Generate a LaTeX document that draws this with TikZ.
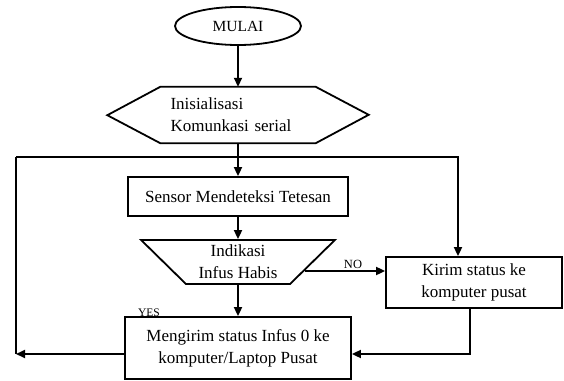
\documentclass[tikz,border=0pt]{standalone}
\usepackage{fontspec}
\setmainfont{Liberation Serif}
\usetikzlibrary{arrows.meta,calc,shapes.geometric}
\tikzset{
  flowtxt/.style={font=\fontsize{17}{22}\selectfont, align=center},
  prosesbox/.style={draw, rectangle, line width=1.8pt, inner sep=0pt, flowtxt},
  labelkecil/.style={font=\fontsize{12.5}{14}\selectfont, inner sep=0pt},
  garis/.style={line width=1.8pt},
  panah/.style={line width=1.8pt, -{Triangle[length=9pt,width=8pt]}},
}

\begin{document}
\begin{tikzpicture}[x=1pt,y=-1pt]
			%%%%% START %%%%%
			\useasboundingbox (0,0) rectangle (564,380);
			
			\node[draw, ellipse, line width=1.8pt, minimum width=126pt, minimum height=38pt, inner sep=0pt, font=\fontsize{15.5}{18}\selectfont] (mulai) at (238,26) {MULAI};
			
			\node[flowtxt, align=left, text width=135pt, inner xsep=10pt, inner ysep=0pt, minimum height=56pt] (init) at (238,115) {Inisialisasi\\Komunkasi serial};
			\draw[garis] (init.north west) -- (init.north east) -- ++(53,28) -- (init.south east) -- (init.south west) -- ++(-53,-28) -- cycle;
			
			\node[prosesbox, minimum width=220pt, minimum height=39pt] (sensor) at (238,196.5) {Sensor Mendeteksi Tetesan};
			
			\node[draw, trapezium, shape border rotate=180, trapezium left angle=45, trapezium right angle=45, trapezium stretches=true, minimum width=194pt, minimum height=44pt, line width=1.8pt, inner sep=0pt, flowtxt] (cek) at (238,262) {Indikasi\\Infus Habis};
			
			\node[prosesbox, minimum width=176pt, minimum height=51pt] (kirim) at (474,282.5) {Kirim status ke\\komputer pusat};
			\node[prosesbox, minimum width=226pt, minimum height=62pt] (kirimpusat) at (238,348) {Mengirim status Infus 0 ke\\komputer/Laptop Pusat};
			
			\node[labelkecil] (no) at (353,264) {NO};
			\node[labelkecil, font=\fontsize{11.5}{13}\selectfont] (yes) at (149,313) {YES};
			
			\coordinate (kiriatas) at (16,157);
			\coordinate (kananatas) at (458,157);
			\coordinate (kiribawah) at (16,354);
			\coordinate (balik) at (470,354);
			\coordinate (nopangkal) at ($(cek.east)+(-9,9)$);
			
			\draw[panah] (mulai.south) -- (init.north);
			\draw[panah] (init.south) -- (sensor.north);
			\draw[panah] (sensor.south) -- (cek.north);
			\draw[panah] (cek.south) -- (kirimpusat.north);
			\draw[panah] (nopangkal) -- (nopangkal -| kirim.west);
			
			\draw[panah] (kiriatas) -- (kananatas) -- (kananatas |- kirim.north);
			\draw[garis] (kiriatas) -- (kiribawah);
			\draw[panah] (kirimpusat.west |- kiribawah) -- (kiribawah);
			\draw[panah] (kirim.south -| balik) -- (balik) -- (balik -| kirimpusat.east);
			
			%%%%% END %%%%%
\end{tikzpicture}
\end{document}
